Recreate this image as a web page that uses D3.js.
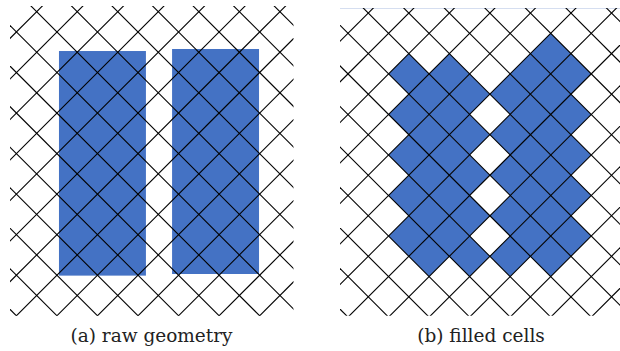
<!DOCTYPE html>
<html><head><meta charset="utf-8">
<script src="https://cdn.jsdelivr.net/npm/d3@7"></script>
<style>html,body{margin:0;padding:0;background:#fff;}svg{display:block;}</style>
</head><body>
<svg id="c" width="620" height="351"></svg>
<script>
// ---- data (world units: half-diagonal of a grid cell) ----
const panelLabels = ["(a) raw geometry", "(b) filled cells"];
// raw rectangles [x0, x1, y0, y1]
const rectX0 = [2.10, 7.68];
const rectX1 = [6.39, 11.97];
const rectY0 = [2.94, 2.84];
const rectY1 = [14.02, 13.94];
// filled diamond cells: [i, j] centre in world units (i+j odd)
const filledCells = [
  [10,3],
  [3,4],[5,4],[9,4],[11,4],
  [4,5],[6,5],[8,5],[10,5],
  [3,6],[5,6],[9,6],[11,6],
  [4,7],[6,7],[8,7],[10,7],
  [3,8],[5,8],[9,8],[11,8],
  [4,9],[6,9],[8,9],[10,9],
  [3,10],[5,10],[9,10],[11,10],
  [4,11],[6,11],[8,11],[10,11],
  [3,12],[5,12],[9,12],[11,12],
  [4,13],[6,13],[8,13],[10,13]
];
// grid line indices (lines x-y = 2n and x+y = 2n)
const gridN = d3.range(-10, 21);

const BLUE = "#4472c4";
const svg = d3.select("#c");

const panels = [
  {clip:[10, 6, 293.5, 315.7], x: d3.scaleLinear().domain([0,14]).range([16.4, 16.4+14*20.27]),
   y: d3.scaleLinear().domain([0,16]).range([-8.57, -8.57+16*20.27]), labelX:151.5},
  {clip:[340, 8, 620, 315.7], x: d3.scaleLinear().domain([0,14]).range([348.0, 348.0+14*20.27]),
   y: d3.scaleLinear().domain([0,16]).range([-7.2, -7.2+16*20.27]), labelX:481}
];

const defs = svg.append("defs");
panels.forEach((p,k)=>{
  defs.append("clipPath").attr("id","clip"+k).append("rect")
    .attr("x",p.clip[0]).attr("y",p.clip[1])
    .attr("width",p.clip[2]-p.clip[0]).attr("height",p.clip[3]-p.clip[1]);
});

// top border line of panel b
svg.append("line").attr("x1",340).attr("x2",620).attr("y1",8.5).attr("y2",8.5)
  .attr("stroke","#d5def0").attr("stroke-width",1);

panels.forEach((p,k)=>{
  const g = svg.append("g").attr("clip-path","url(#clip"+k+")");
  if (k===0) {
    g.selectAll("rect.raw").data(rectX0.map((d,i)=>i)).enter().append("rect")
      .attr("x", i=>p.x(rectX0[i])).attr("y", i=>p.y(rectY0[i]))
      .attr("width", i=>p.x(rectX1[i])-p.x(rectX0[i]))
      .attr("height", i=>p.y(rectY1[i])-p.y(rectY0[i]))
      .attr("fill", BLUE);
  } else {
    g.selectAll("path.cell").data(filledCells).enter().append("path")
      .attr("d", d=>{
        const [i,j]=d;
        return "M"+p.x(i)+","+p.y(j-1)+"L"+p.x(i+1)+","+p.y(j)+"L"+p.x(i)+","+p.y(j+1)+"L"+p.x(i-1)+","+p.y(j)+"Z";
      })
      .attr("fill", BLUE);
  }
  // diagonal grid
  g.selectAll("line.d1").data(gridN).enter().append("line")
    .attr("x1", n=>p.x(2*n-2)).attr("y1", p.y(-2))
    .attr("x2", n=>p.x(2*n+18)).attr("y2", p.y(18))
    .attr("stroke","#000").attr("stroke-width",1.1);
  g.selectAll("line.d2").data(gridN).enter().append("line")
    .attr("x1", n=>p.x(2*n+2)).attr("y1", p.y(-2))
    .attr("x2", n=>p.x(2*n-18)).attr("y2", p.y(18))
    .attr("stroke","#000").attr("stroke-width",1.1);
  svg.append("text").attr("x",p.labelX).attr("y",341.5)
    .attr("text-anchor","middle")
    .attr("font-family","'DejaVu Serif', serif").attr("font-size",18.5)
    .attr("fill","#222")
    .text(panelLabels[k]);
});
</script>
</body></html>
